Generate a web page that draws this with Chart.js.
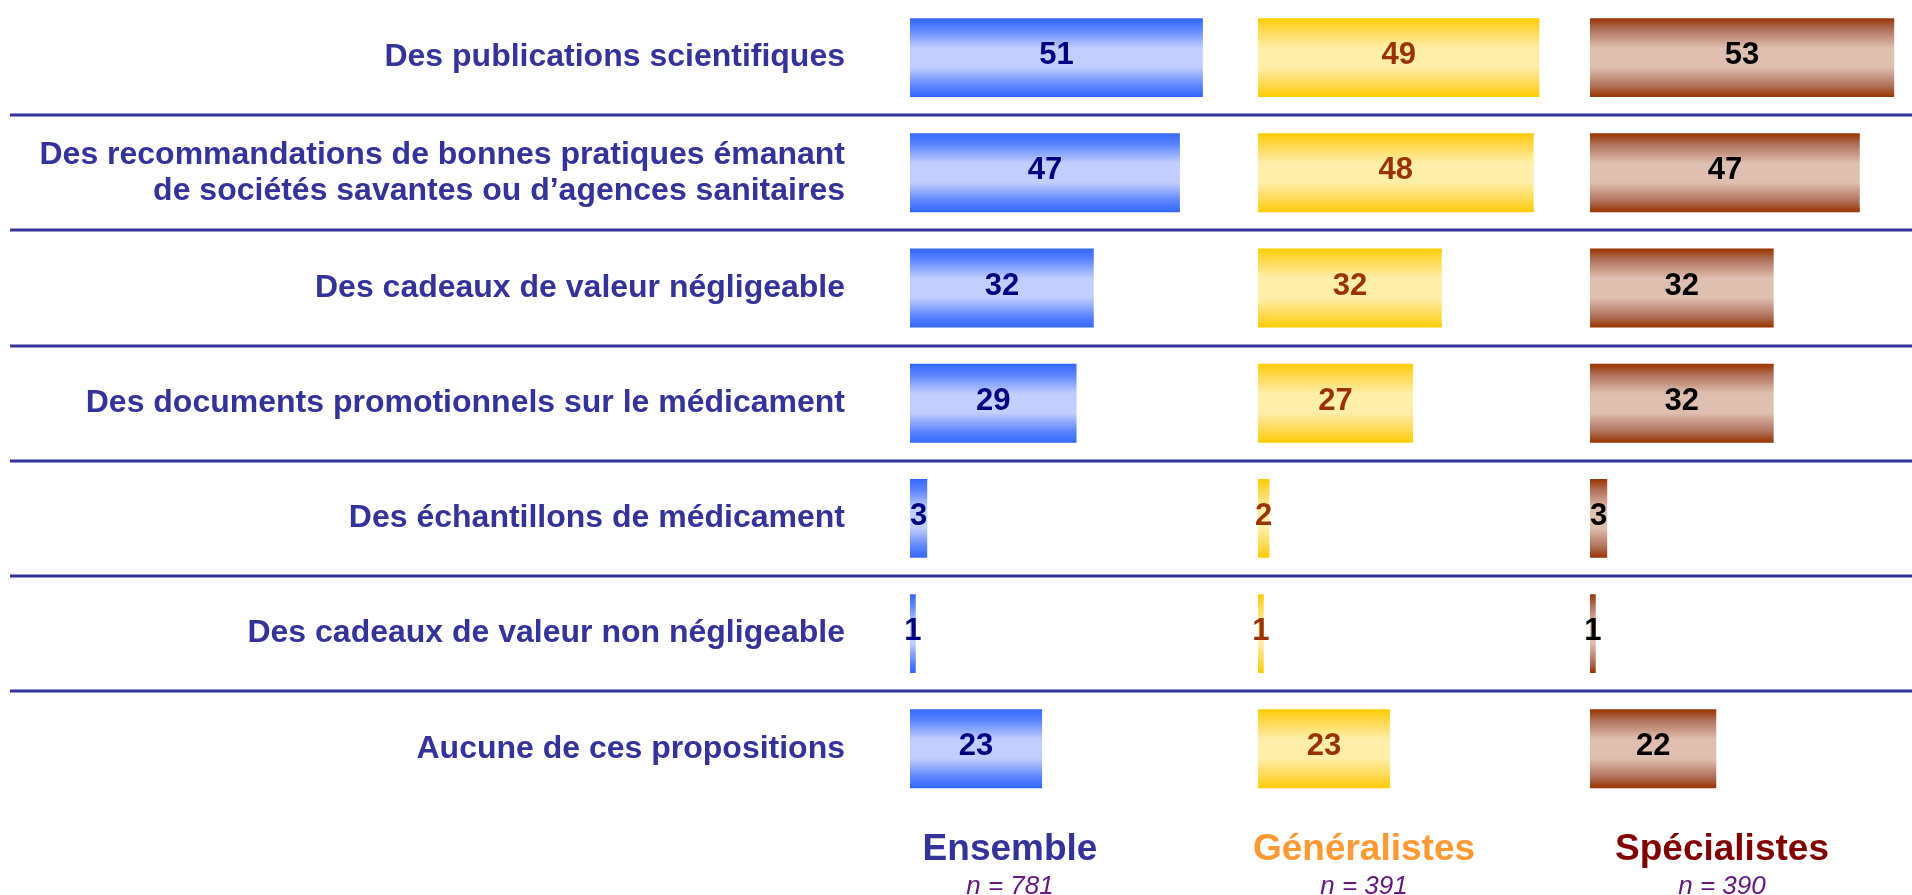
<!DOCTYPE html>
<html lang="fr">
<head>
<meta charset="utf-8">
<title>Sources d'information</title>
<script src="https://cdn.jsdelivr.net/npm/chart.js@4/dist/chart.umd.min.js"></script>
<style>
  html, body { margin: 0; padding: 0; background: #ffffff; }
  canvas { display: block; }
</style>
</head>
<body>
<canvas id="grafico-sources" width="1912" height="895"></canvas>
<script>
const categories = [
    'Des publications scientifiques',
    ['Des recommandations de bonnes pratiques émanant', 'de sociétés savantes ou d’agences sanitaires'],
    'Des cadeaux de valeur négligeable',
    'Des documents promotionnels sur le médicament',
    'Des échantillons de médicament',
    'Des cadeaux de valeur non négligeable',
    'Aucune de ces propositions'
];
const valeursEnsemble = [51, 47, 32, 29, 3, 1, 23];
const valeursGeneralistes = [49, 48, 32, 27, 2, 1, 23];
const valeursSpecialistes = [53, 47, 32, 32, 3, 1, 22];
const groupes = ['Ensemble', 'Généralistes', 'Spécialistes'];
const effectifs = ['n = 781', 'n = 391', 'n = 390'];

const POLICE = 'Arial, "Liberation Sans", sans-serif';
const BAR_PCT = 0.685;

// bord / milieu du dégradé vertical de chaque série
const degrades = [
    ['#3366ff', '#5a84ff', '#c2ceff'],
    ['#ffcc00', '#ffd84a', '#ffeeaa'],
    ['#993300', '#b0705a', '#dfc0b0']
];
const couleursValeurs = ['#000080', '#993300', '#000000'];
const couleursTitres = ['#333399', '#ff9933', '#800000'];
const decalagesTitres = [100, 106, 132];

function degrade(serie) {
    const [bord, inter, milieu] = degrades[serie];
    return function(context) {
        const chart = context.chart;
        const y = chart.scales.y;
        if (!chart.chartArea || !y || context.dataIndex === undefined) return bord;
        const pas = Math.abs(y.getPixelForValue(1) - y.getPixelForValue(0));
        const demi = pas * BAR_PCT / 2;
        const centre = y.getPixelForValue(context.dataIndex);
        const g = chart.ctx.createLinearGradient(0, centre - demi, 0, centre + demi);
        g.addColorStop(0, bord);
        g.addColorStop(0.14, inter);
        g.addColorStop(0.38, milieu);
        g.addColorStop(0.62, milieu);
        g.addColorStop(0.86, inter);
        g.addColorStop(1, bord);
        return g;
    };
}

const separateurs = {
    id: 'separateurs',
    afterDraw(chart) {
        const y = chart.scales.y;
        const ctx = chart.ctx;
        ctx.save();
        ctx.strokeStyle = '#333399';
        ctx.lineWidth = 3;
        for (let i = 0; i < categories.length - 1; i++) {
            const py = Math.round((y.getPixelForValue(i) + y.getPixelForValue(i + 1)) / 2);
            ctx.beginPath();
            ctx.moveTo(10, py);
            ctx.lineTo(chart.width, py);
            ctx.stroke();
        }
        ctx.restore();
    }
};

const etiquettesValeurs = {
    id: 'etiquettesValeurs',
    afterDatasetsDraw(chart) {
        const ctx = chart.ctx;
        ctx.save();
        ctx.font = 'bold 31px ' + POLICE;
        ctx.textAlign = 'center';
        ctx.textBaseline = 'middle';
        chart.data.datasets.forEach((ds, i) => {
            ctx.fillStyle = couleursValeurs[i];
            chart.getDatasetMeta(i).data.forEach((barre, j) => {
                const p = barre.getProps(['x', 'y', 'base'], true);
                ctx.fillText(ds.data[j], (p.x + p.base) / 2, p.y - 2);
            });
        });
        ctx.restore();
    }
};

const titresGroupes = {
    id: 'titresGroupes',
    afterDraw(chart) {
        const ctx = chart.ctx;
        ctx.save();
        ctx.textAlign = 'center';
        ctx.textBaseline = 'alphabetic';
        ['x0', 'x1', 'x2'].forEach((id, i) => {
            const cx = chart.scales[id].left + decalagesTitres[i];
            ctx.font = 'bold 37px ' + POLICE;
            ctx.fillStyle = couleursTitres[i];
            ctx.fillText(groupes[i], cx, 860);
            ctx.font = 'italic 26px ' + POLICE;
            ctx.fillStyle = '#661a80';
            ctx.fillText(effectifs[i], cx, 894);
        });
        ctx.restore();
    }
};

function axeValeur(max, poids) {
    return {
        type: 'linear',
        position: 'bottom',
        stack: 'groupes',
        stackWeight: poids,
        min: 0,
        max: max,
        display: false
    };
}

new Chart(document.getElementById('grafico-sources'), {
    type: 'bar',
    data: {
        labels: categories,
        datasets: [
            { label: groupes[0], data: valeursEnsemble, xAxisID: 'x0', backgroundColor: degrade(0) },
            { label: groupes[1], data: valeursGeneralistes, xAxisID: 'x1', backgroundColor: degrade(1) },
            { label: groupes[2], data: valeursSpecialistes, xAxisID: 'x2', backgroundColor: degrade(2) }
        ]
    },
    options: {
        indexAxis: 'y',
        responsive: false,
        animation: false,
        layout: { padding: { top: 0, right: 0, bottom: 88.6, left: 0 } },
        datasets: {
            bar: { grouped: false, barPercentage: BAR_PCT, categoryPercentage: 1, borderWidth: 0 }
        },
        plugins: {
            legend: { display: false },
            tooltip: { enabled: false }
        },
        scales: {
            y: {
                type: 'category',
                position: 'left',
                grid: { display: false, drawTicks: false },
                border: { display: false },
                ticks: {
                    autoSkip: false,
                    padding: 65,
                    color: '#333399',
                    font: { family: POLICE, size: 32, weight: 'bold', lineHeight: 1.13 }
                },
                afterFit: (scale) => {
                    scale.width = 910;
                    scale.paddingTop = 0;
                    scale.paddingBottom = 0;
                }
            },
            x0: axeValeur(60.6, 348),
            x1: axeValeur(57.8, 332),
            x2: axeValeur(56.1, 322)
        }
    },
    plugins: [separateurs, etiquettesValeurs, titresGroupes]
});
</script>
</body>
</html>
